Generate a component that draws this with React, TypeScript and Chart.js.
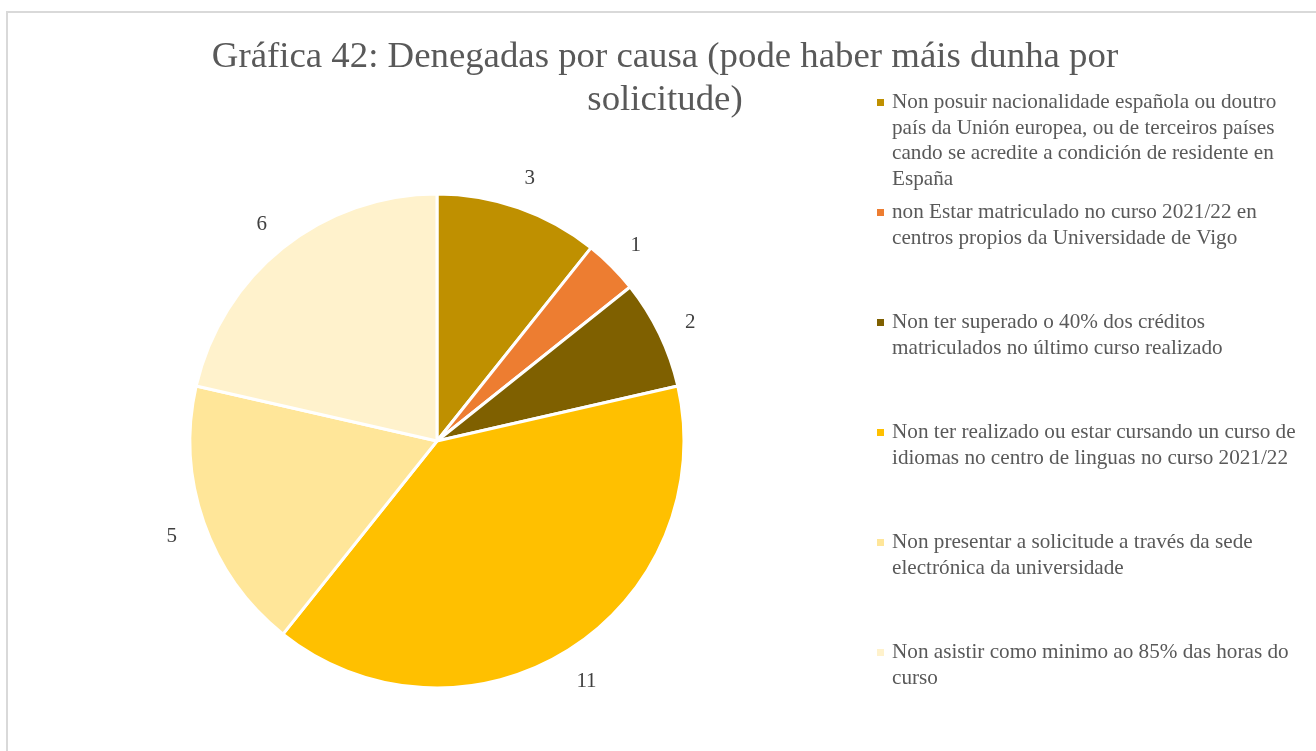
import React, { useEffect, useRef } from "react";
import { Chart, registerables } from "chart.js";

Chart.register(...registerables);

const titleLines = [
  "Gráfica 42: Denegadas por causa (pode haber máis dunha por",
  "solicitude)",
];

const categories = [
  [
    "Non posuir nacionalidade española ou doutro",
    "país da Unión europea, ou de terceiros países",
    "cando se acredite a condición de residente en",
    "España",
  ],
  ["non Estar matriculado no curso 2021/22 en", "centros propios da Universidade de Vigo"],
  ["Non ter superado o 40% dos créditos", "matriculados no último curso realizado"],
  ["Non ter realizado ou estar cursando un curso de", "idiomas no centro de linguas no curso 2021/22"],
  ["Non presentar a solicitude a través da sede", "electrónica da universidade"],
  ["Non asistir como minimo ao 85% das horas do", "curso"],
];

const values = [3, 1, 2, 11, 5, 6];

const colors = ["#BF9000", "#ED7D31", "#7F6000", "#FFC000", "#FFE699", "#FFF2CC"];

const FONT = '"Liberation Serif", "Times New Roman", serif';

const textPlugin = {
  id: "excelTexts",
  afterDraw(chart: any) {
    const ctx = chart.ctx as CanvasRenderingContext2D;
    ctx.save();
    // Title
    ctx.fillStyle = "#595959";
    ctx.font = `36.8px ${FONT}`;
    ctx.textAlign = "center";
    ctx.textBaseline = "alphabetic";
    titleLines.forEach((line, i) => ctx.fillText(line, 665, 67 + i * 43));

    // Data labels (outside end)
    const meta = chart.getDatasetMeta(0);
    ctx.font = `21px ${FONT}`;
    ctx.fillStyle = "#404040";
    ctx.textBaseline = "middle";
    meta.data.forEach((arc: any, i: number) => {
      const p = arc.getProps(["x", "y", "startAngle", "endAngle", "outerRadius"], true);
      const mid = (p.startAngle + p.endAngle) / 2;
      const r = p.outerRadius + 34;
      ctx.fillText(String(values[i]), p.x + Math.cos(mid) * r, p.y + Math.sin(mid) * r + 3);
    });

    // Legend
    ctx.textAlign = "left";
    ctx.textBaseline = "alphabetic";
    ctx.font = `21.2px ${FONT}`;
    categories.forEach((lines, i) => {
      const base = 108 + i * 110;
      ctx.fillStyle = colors[i];
      ctx.fillRect(877, base - 9, 7, 7);
      ctx.fillStyle = "#595959";
      lines.forEach((line, j) => ctx.fillText(line, 892, base + j * 25.5));
    });
    ctx.restore();
  },
};

export default function App() {
  const canvasRef = useRef<HTMLCanvasElement | null>(null);

  useEffect(() => {
    if (!canvasRef.current) return;
    const chart = new Chart(canvasRef.current, {
      type: "pie",
      data: {
        labels: categories,
        datasets: [
          {
            data: values,
            backgroundColor: colors,
            borderColor: "#FFFFFF",
            borderWidth: 3,
          },
        ],
      },
      options: {
        responsive: false,
        animation: false,
        radius: 247,
        layout: { padding: { left: 187, right: 629, top: 191, bottom: 60 } },
        plugins: {
          legend: { display: false },
          title: { display: false },
          tooltip: { enabled: false },
        },
      } as any,
      plugins: [textPlugin],
    });
    return () => chart.destroy();
  }, []);

  return (
    <div
      style={{
        position: "fixed",
        left: 0,
        top: 0,
        width: 1316,
        height: 751,
        overflow: "hidden",
        background: "#FFFFFF",
      }}
    >
      <div
        style={{
          position: "absolute",
          left: 6,
          top: 11,
          width: 1340,
          height: 780,
          border: "2px solid #D9D9D9",
          boxSizing: "border-box",
        }}
      />
      <canvas
        ref={canvasRef}
        width={1316}
        height={751}
        style={{ position: "absolute", left: 0, top: 0, width: 1316, height: 751 }}
      />
    </div>
  );
}
